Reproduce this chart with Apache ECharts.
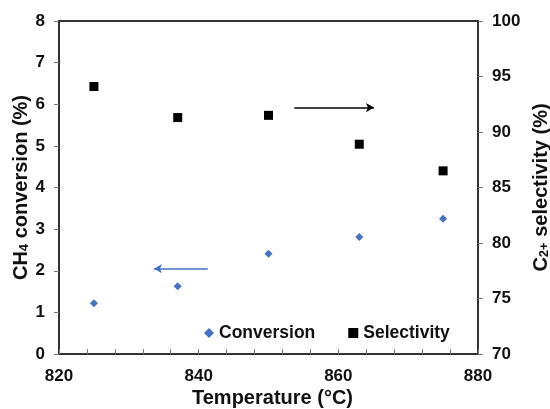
<!DOCTYPE html>
<html>
<head>
<meta charset="utf-8">
<script src="https://cdn.jsdelivr.net/npm/echarts@6/dist/echarts.min.js"></script>
<style>
  html, body { margin: 0; padding: 0; background: #fff; }
  #chart { width: 550px; height: 409px; }
</style>
</head>
<body>
<div id="chart"></div>
<script>
// temperatures (°C)
const temperatures = [825, 837, 850, 863, 875];
// CH4 conversion (%), left axis
const conversion = [1.22, 1.63, 2.41, 2.81, 3.25];
// C2+ selectivity (%), right axis
const selectivity = [94.1, 91.3, 91.5, 88.9, 86.5];

// annotation arrows: [fromX, fromY] -> [toX, toY]
const convArrow = [[841.3, 2.05], [833.6, 2.05]];
const selArrow = [[853.7, 92.2], [865.1, 92.2]];

const font = 'Liberation Sans, Arial, sans-serif';
const axisColor = '#333';

const chart = echarts.init(document.getElementById('chart'));

const richName = {
  a: { fontSize: 20, fontWeight: 'bold', color: '#111', fontFamily: font, lineHeight: 24, verticalAlign: 'bottom' },
  s: { fontSize: 13, fontWeight: 'bold', color: '#111', fontFamily: font, lineHeight: 16, verticalAlign: 'bottom', padding: [7, 0, 0, 0] }
};

const option = {
  animation: false,
  backgroundColor: '#fff',
  textStyle: { fontFamily: font },
  grid: {
    left: 59, right: 72, top: 21, bottom: 55,
    containLabel: false,
    outerBoundsMode: 'none',
    show: true,
    borderColor: axisColor,
    borderWidth: 2
  },
  legend: {
    left: 199,
    top: 319,
    itemGap: 33,
    itemWidth: 10,
    itemHeight: 10,
    textStyle: { fontSize: 17.5, fontWeight: 'bold', color: '#111', fontFamily: font },
    data: [
      { name: 'Conversion', icon: 'diamond' },
      { name: 'Selectivity', icon: 'rect' }
    ]
  },
  xAxis: {
    type: 'value',
    min: 820,
    max: 880,
    interval: 4,
    name: 'Temperature (°C)',
    nameLocation: 'middle',
    nameGap: 32,
    nameMoveOverlap: false,
    nameTextStyle: { fontSize: 20, fontWeight: 'bold', color: '#111', lineHeight: 24, padding: [0, 0, 0, 8] },
    axisLine: { lineStyle: { color: axisColor, width: 2 } },
    axisTick: { inside: true, length: 5, lineStyle: { color: '#777' } },
    axisLabel: {
      margin: 14,
      fontSize: 17,
      fontWeight: 'bold',
      color: '#111',
      formatter: v => (v % 20 === 0 ? String(v) : '')
    },
    splitLine: { show: false }
  },
  yAxis: [
    {
      type: 'value',
      min: 0,
      max: 8,
      interval: 1,
      position: 'left',
      name: '{a|CH}{s|4}{a| conversion (%)}',
      nameLocation: 'middle',
      nameGap: 28,
      nameMoveOverlap: false,
      nameTextStyle: { rich: richName },
      axisLine: { show: true, lineStyle: { color: axisColor, width: 2 } },
      axisTick: { show: true, length: 5, lineStyle: { color: '#777' } },
      axisLabel: { margin: 14, fontSize: 17, fontWeight: 'bold', color: '#111' },
      splitLine: { show: false }
    },
    {
      type: 'value',
      min: 70,
      max: 100,
      interval: 5,
      position: 'right',
      name: '{a|C}{s|2+}{a| selectivity (%)}',
      nameLocation: 'middle',
      nameGap: 49,
      nameRotate: 90,
      nameMoveOverlap: false,
      nameTextStyle: { rich: richName },
      axisLine: { show: true, lineStyle: { color: axisColor, width: 2 } },
      axisTick: { show: true, length: 5, lineStyle: { color: '#777' } },
      axisLabel: { margin: 14, fontSize: 17, fontWeight: 'bold', color: '#111' },
      splitLine: { show: false }
    }
  ],
  series: [
    {
      name: 'Conversion',
      type: 'scatter',
      yAxisIndex: 0,
      symbol: 'diamond',
      symbolSize: 8,
      itemStyle: { color: '#4472C4', opacity: 1 },
      data: temperatures.map((t, i) => [t, conversion[i]]),
      markLine: {
        silent: true,
        symbol: ['none', 'arrow'],
        symbolSize: [7, 8],
        label: { show: false },
        lineStyle: { color: '#4472C4', width: 1.5, type: 'solid' },
        data: [[{ coord: convArrow[0] }, { coord: convArrow[1] }]]
      }
    },
    {
      name: 'Selectivity',
      type: 'scatter',
      yAxisIndex: 1,
      symbol: 'rect',
      symbolSize: 9,
      itemStyle: { color: '#000', opacity: 1 },
      data: temperatures.map((t, i) => [t, selectivity[i]]),
      markLine: {
        silent: true,
        symbol: ['none', 'arrow'],
        symbolSize: [7, 8],
        label: { show: false },
        lineStyle: { color: '#000', width: 1.5, type: 'solid' },
        data: [[{ coord: selArrow[0] }, { coord: selArrow[1] }]]
      }
    }
  ]
};

chart.setOption(option);
</script>
</body>
</html>
